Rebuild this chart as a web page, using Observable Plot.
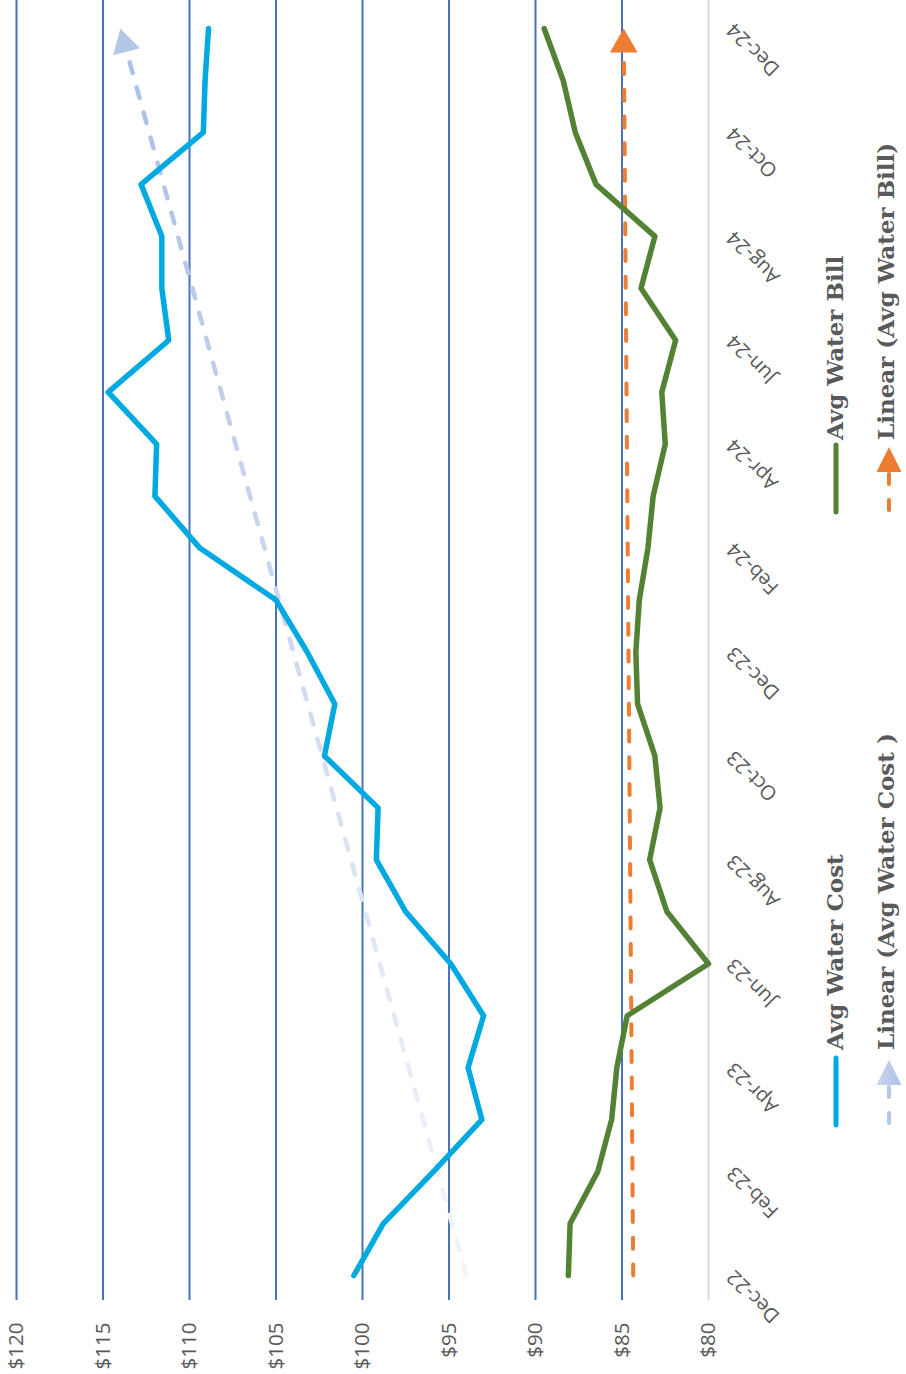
<!DOCTYPE html>
<html>
<head>
<meta charset="utf-8">
<script src="https://cdn.jsdelivr.net/npm/d3@7"></script>
<script src="https://cdn.jsdelivr.net/npm/@observablehq/plot@0.6"></script>
<style>
  html, body { margin: 0; padding: 0; background: #ffffff; overflow: hidden; }
</style>
</head>
<body>
<div id="chart"></div>
<script>
// ---- data ----
const months = ["Dec-22","Jan-23","Feb-23","Mar-23","Apr-23","May-23","Jun-23","Jul-23","Aug-23","Sep-23","Oct-23","Nov-23",
                "Dec-23","Jan-24","Feb-24","Mar-24","Apr-24","May-24","Jun-24","Jul-24","Aug-24","Sep-24","Oct-24","Nov-24","Dec-24"];
const avgWaterCost = [100.5, 98.8, 95.9, 93.1, 93.9, 93.0, 94.9, 97.5, 99.2, 99.1, 102.2, 101.6,
                      103.2, 105.0, 109.4, 112.0, 111.9, 114.7, 111.2, 111.6, 111.6, 112.8, 109.2, 109.1, 108.9];
const avgWaterBill = [88.1, 88.0, 86.4, 85.6, 85.3, 84.7, 80.0, 82.4, 83.4, 82.8, 83.1, 84.1,
                      84.2, 84.0, 83.5, 83.2, 82.5, 82.7, 81.9, 83.9, 83.1, 86.5, 87.7, 88.4, 89.5];
const trendMonths = ["Dec-22", "Dec-24"];
const trendCost = [94.0, 114.0];
const trendBill = [84.35, 84.9];
const monthTicks = months.filter((d, i) => i % 2 === 0);
const valueTicks = [120, 115, 110, 105, 100, 95, 90, 85, 80];
const gridValues = [120, 115, 110, 105, 100, 95, 90, 85];
const baseValue = [80];
const seriesNames = ["Avg Water Cost", "Avg Water Bill", "Linear (Avg Water Cost )", "Linear (Avg Water Bill)"];

// ---- styles ----
const C_COST = "#00A9E0", C_BILL = "#548235", C_TCOST = "#B4C7E7", C_TBILL = "#ED7D31";
const C_GRID = "#4A72BE", C_TEXT = "#595959";

const costData = months.map((m, i) => ({month: m, value: avgWaterCost[i]}));
const billData = months.map((m, i) => ({month: m, value: avgWaterBill[i]}));
const tCostData = trendMonths.map((m, i) => ({month: m, value: trendCost[i]}));
const tBillData = trendMonths.map((m, i) => ({month: m, value: trendBill[i]}));

function defsAndLegend(index, scales, values, dims) {
  const g = d3.create("svg:g");
  const defs = g.append("defs");
  const lg = defs.append("linearGradient").attr("id", "tcostGrad")
    .attr("x1", 0).attr("y1", 1).attr("x2", 0).attr("y2", 0);
  lg.append("stop").attr("offset", "0%").attr("stop-color", "#F3F4FA");
  lg.append("stop").attr("offset", "100%").attr("stop-color", "#A9BFE5");
  const lg2 = defs.append("linearGradient").attr("id", "tcostLeg")
    .attr("x1", 0).attr("y1", 0).attr("x2", 1).attr("y2", 0);
  lg2.append("stop").attr("offset", "0%").attr("stop-color", "#C9D5EE");
  lg2.append("stop").attr("offset", "100%").attr("stop-color", "#AFC2E6");

  const right = dims.width - dims.marginRight; // 708
  const xA = right + 128, xB = right + 181;     // legend columns
  const rows = [
    {name: seriesNames[0], x: xA, y0: 1125, y1: 1058, ty: 1050, kind: "line", color: C_COST},
    {name: seriesNames[1], x: xA, y0: 512, y1: 445, ty: 440, kind: "line", color: C_BILL},
    {name: seriesNames[2], x: xB, y0: 1125, y1: 1060, ty: 1050, kind: "trend", color: C_TCOST, fill: "url(#tcostLeg)"},
    {name: seriesNames[3], x: xB, y0: 512, y1: 447, ty: 440, kind: "trend", color: C_TBILL, fill: C_TBILL}
  ];
  for (const r of rows) {
    if (r.kind === "line") {
      g.append("line").attr("x1", r.x).attr("x2", r.x).attr("y1", r.y0).attr("y2", r.y1)
        .attr("stroke", r.color).attr("stroke-width", 5).attr("stroke-linecap", "round");
    } else {
      g.append("line").attr("x1", r.x).attr("x2", r.x).attr("y1", r.y0 - 2).attr("y2", r.y1 + 26)
        .attr("stroke", r.color).attr("stroke-width", 4).attr("stroke-linecap", "round")
        .attr("stroke-dasharray", "10,16");
      g.append("path")
        .attr("d", `M${r.x},${r.y1} L${r.x - 12.5},${r.y1 + 25} L${r.x + 12.5},${r.y1 + 25} Z`)
        .attr("fill", r.fill);
    }
    g.append("text")
      .attr("transform", `translate(${r.x + (r.kind === "line" ? 7 : 5)},${r.ty}) rotate(-90)`)
      .attr("text-anchor", "start")
      .attr("font-family", "'DejaVu Serif', serif")
      .attr("font-weight", "bold")
      .attr("font-size", 23)
      .attr("fill", C_TEXT)
      .text(r.name);
  }
  return g.node();
}

const chart = Plot.plot({
  width: 906,
  height: 1374,
  marginLeft: 16,
  marginRight: 198,
  marginTop: 28,
  marginBottom: 99,
  x: {domain: [120, 80], axis: null},
  y: {type: "point", domain: months, range: [1275, 28], padding: 0, round: false, axis: null},
  style: {fontFamily: "'Open Sans', sans-serif", color: C_TEXT, background: "#ffffff"},
  marks: [
    defsAndLegend,
    Plot.ruleX(gridValues, {x: d => d, stroke: C_GRID, strokeWidth: 2, insetTop: -28, insetBottom: -25}),
    Plot.ruleX(baseValue, {x: d => d, stroke: "#D9D9D9", strokeWidth: 2, insetTop: -28, insetBottom: -25}),
    // axis tick labels
    Plot.text(valueTicks, {x: d => d, text: d => `$${d}`, frameAnchor: "bottom", dy: 47, rotate: -90,
      textAnchor: "end", lineAnchor: "middle", fontSize: 20.5, fill: C_TEXT}),
    Plot.text(monthTicks, {y: d => d, text: d => d, frameAnchor: "right", dx: 22, dy: -2, rotate: -135,
      textAnchor: "end", lineAnchor: "middle", fontSize: 20, fill: C_TEXT}),
    // trend lines
    Plot.line(tCostData, {x: "value", y: "month", stroke: "url(#tcostGrad)", strokeWidth: 4.5,
      strokeDasharray: "11,15", strokeLinecap: "round"}),
    Plot.line(tBillData, {x: "value", y: "month", stroke: C_TBILL, strokeWidth: 4,
      strokeDasharray: "11,15.7", strokeLinecap: "round"}),
    // data lines
    Plot.line(costData, {x: "value", y: "month", stroke: C_COST, strokeWidth: 5.5,
      strokeLinejoin: "round", strokeLinecap: "round"}),
    Plot.line(billData, {x: "value", y: "month", stroke: C_BILL, strokeWidth: 5.5,
      strokeLinejoin: "round", strokeLinecap: "round"}),
    // trend arrow heads
    Plot.dot(tCostData.slice(-1), {x: "value", y: "month", symbol: "triangle", r: 10.3, rotate: -15,
      dx: 4.2, dy: 15.5, fill: C_TCOST, stroke: "none"}),
    Plot.dot(tBillData.slice(-1), {x: "value", y: "month", symbol: "triangle", r: 10.3, rotate: 0,
      dx: 0, dy: 16, fill: C_TBILL, stroke: "none"})
  ]
});
document.getElementById("chart").appendChild(chart);
</script>
</body>
</html>
